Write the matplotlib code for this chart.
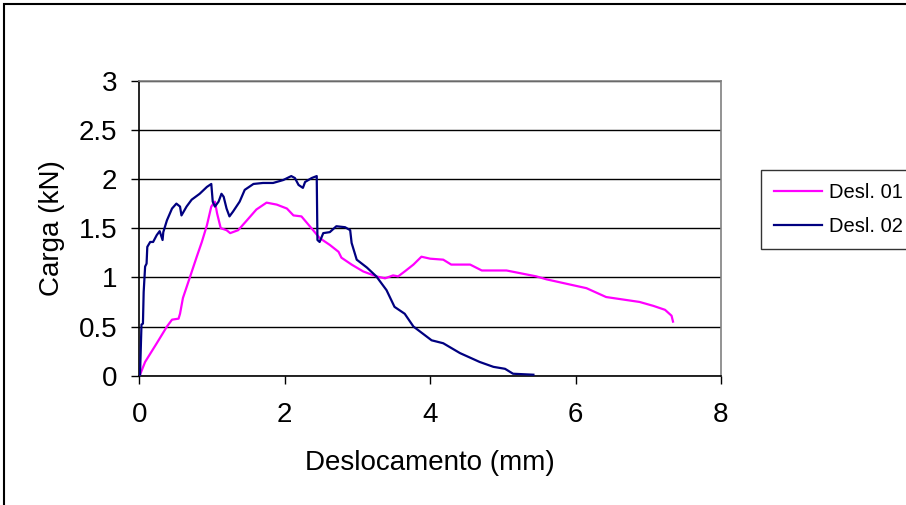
import matplotlib.pyplot as plt
from matplotlib.patches import Rectangle


# ----- data -----
desl01_x = [0.01, 0.08, 0.24, 0.38, 0.45, 0.54, 0.56, 0.60, 0.70, 0.79, 0.86, 0.93, 0.99, 1.04,
            1.07, 1.12, 1.20, 1.25, 1.36, 1.48, 1.61, 1.75, 1.89, 2.03, 2.12, 2.23, 2.39, 2.48,
            2.62, 2.74, 2.78, 2.92, 3.08, 3.26, 3.38, 3.49, 3.56, 3.65, 3.77, 3.88, 4.00, 4.18,
            4.29, 4.55, 4.71, 5.05, 5.46, 5.60, 6.15, 6.42, 6.88, 7.07, 7.23, 7.32, 7.34]
desl01_y = [0.01, 0.14, 0.33, 0.50, 0.57, 0.58, 0.63, 0.79, 1.01, 1.21, 1.36, 1.53, 1.72, 1.77,
            1.65, 1.50, 1.48, 1.45, 1.48, 1.58, 1.69, 1.76, 1.74, 1.70, 1.63, 1.62, 1.48, 1.40,
            1.33, 1.26, 1.20, 1.13, 1.06, 1.01, 0.99, 1.02, 1.01, 1.06, 1.13, 1.21, 1.19, 1.18,
            1.13, 1.13, 1.07, 1.07, 1.01, 0.98, 0.89, 0.80, 0.75, 0.71, 0.67, 0.61, 0.55]

desl02_x = [0.01, 0.03, 0.05, 0.06, 0.08, 0.10, 0.11, 0.15, 0.19, 0.24, 0.28, 0.32, 0.33, 0.38,
            0.45, 0.51, 0.56, 0.58, 0.65, 0.72, 0.83, 0.93, 0.99, 1.01, 1.04, 1.09, 1.13, 1.16,
            1.20, 1.24, 1.29, 1.38, 1.45, 1.57, 1.70, 1.84, 1.98, 2.09, 2.14, 2.19, 2.25, 2.28,
            2.37, 2.44, 2.45, 2.48, 2.53, 2.62, 2.71, 2.83, 2.90, 2.92, 2.99, 3.13, 3.26, 3.40,
            3.51, 3.65, 3.77, 4.02, 4.18, 4.41, 4.68, 4.87, 5.03, 5.14, 5.42]
desl02_y = [0.01, 0.52, 0.53, 0.85, 1.11, 1.14, 1.31, 1.36, 1.36, 1.43, 1.47, 1.38, 1.46, 1.58,
            1.70, 1.75, 1.72, 1.63, 1.72, 1.79, 1.85, 1.92, 1.95, 1.77, 1.72, 1.77, 1.85, 1.82,
            1.70, 1.62, 1.67, 1.77, 1.89, 1.95, 1.96, 1.96, 1.99, 2.03, 2.01, 1.94, 1.91, 1.97,
            2.01, 2.03, 1.38, 1.36, 1.45, 1.46, 1.52, 1.51, 1.48, 1.35, 1.18, 1.10, 1.01, 0.87,
            0.70, 0.63, 0.50, 0.36, 0.33, 0.23, 0.14, 0.09, 0.07, 0.02, 0.01]

x_ticks = [0, 2, 4, 6, 8]
y_ticks = [0, 0.5, 1, 1.5, 2, 2.5, 3]
y_tick_labels = ['0', '0.5', '1', '1.5', '2', '2.5', '3']


plt.rcParams['font.family'] = ['Liberation Sans', 'DejaVu Sans']

W, H = 906, 505
fig = plt.figure(figsize=(W / 100, H / 100), dpi=100)

# plot area (pixel bounds)
left, right, top, bottom = 139.3, 721, 80.7, 375.7
ax = fig.add_axes([left / W, 1 - bottom / H, (right - left) / W, (bottom - top) / H])

ax.plot(desl01_x, desl01_y, color='#FF00FF', lw=1.6, label='Desl. 01', zorder=3)
ax.plot(desl02_x, desl02_y, color='#000080', lw=1.6, label='Desl. 02', zorder=3)

ax.set_xlim(0, 8)
ax.set_ylim(0, 3)
ax.set_xticks(x_ticks)
ax.set_xticklabels([str(t) for t in x_ticks])
ax.set_yticks(y_ticks)
ax.set_yticklabels(y_tick_labels)

ax.grid(axis='y', color='black', lw=1)
ax.set_axisbelow(True)

for s in ['top', 'right']:
    ax.spines[s].set_color('#808080')
for s in ['left', 'bottom']:
    ax.spines[s].set_color('black')
for s in ax.spines.values():
    s.set_linewidth(1.2)

ax.tick_params(axis='both', direction='out', length=6, width=1, labelsize=20)
ax.tick_params(axis='y', pad=10)
ax.tick_params(axis='x', pad=13)

ax.set_xlabel('Deslocamento (mm)', fontsize=20, labelpad=16)
ax.set_ylabel('Carga (kN)', fontsize=20, labelpad=10)

fig.legend(loc='upper left', bbox_to_anchor=(761 / W, 1 - 170 / H), borderaxespad=0,
           fontsize=14.5, frameon=True, fancybox=False, edgecolor='black',
           handlelength=2.4, handletextpad=0.35, labelspacing=0.75, borderpad=0.65)
fig.legends[0].get_frame().set_linewidth(1)

# outer chart border (cut off at right and bottom in the reference)
fig.patches.append(Rectangle((4 / W, -0.1), 1.2, 1 - 4 / H + 0.1, transform=fig.transFigure,
                             fill=False, edgecolor='black', lw=1.5))

fig.savefig('out.png', dpi=100)
